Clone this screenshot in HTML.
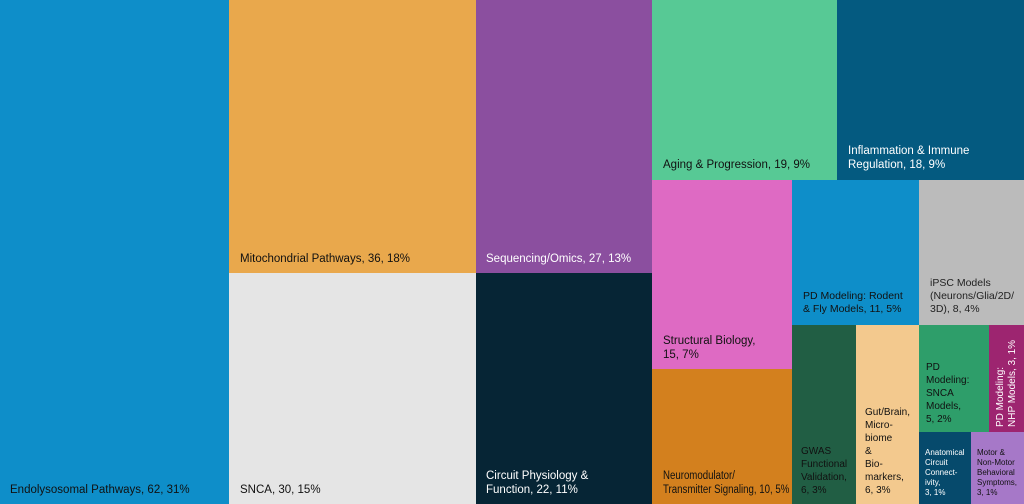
<!DOCTYPE html><html><head><style>
body{margin:0;width:1024px;height:504px;overflow:hidden;font-family:"Liberation Sans","DejaVu Sans",sans-serif;}
.t{position:absolute;box-sizing:border-box;}
.l{position:absolute;font-size:11.5px;line-height:14px;white-space:nowrap;}
.s{font-size:8px;line-height:10px;}
</style></head><body>
<div class="t" style="left:0;top:0;width:229px;height:504px;background:#0e8ec9"><div class="l" style="left:10px;bottom:7px;color:#111">Endolysosomal Pathways, 62, 31%</div></div>
<div class="t" style="left:229px;top:0;width:247px;height:273px;background:#e9a84c"><div class="l" style="left:11px;bottom:7px;color:#111">Mitochondrial Pathways, 36, 18%</div></div>
<div class="t" style="left:229px;top:273px;width:247px;height:231px;background:#e5e5e5"><div class="l" style="left:11px;bottom:7px;color:#111">SNCA, 30, 15%</div></div>
<div class="t" style="left:476px;top:0;width:176px;height:273px;background:#8b4f9f"><div class="l" style="left:10px;bottom:7px;color:#fff">Sequencing/Omics, 27, 13%</div></div>
<div class="t" style="left:476px;top:273px;width:176px;height:231px;background:#062535"><div class="l" style="left:10px;bottom:7px;color:#fff">Circuit Physiology &amp;<br>Function, 22, 11%</div></div>
<div class="t" style="left:652px;top:0;width:185px;height:180px;background:#57c995"><div class="l" style="left:11px;bottom:8px;color:#111">Aging &amp; Progression, 19, 9%</div></div>
<div class="t" style="left:837px;top:0;width:187px;height:180px;background:#045a80"><div class="l" style="left:11px;bottom:8px;color:#fff">Inflammation &amp; Immune<br>Regulation, 18, 9%</div></div>
<div class="t" style="left:652px;top:180px;width:140px;height:189px;background:#de6ac3"><div class="l" style="left:11px;bottom:7px;color:#111">Structural Biology,<br>15, 7%</div></div>
<div class="t" style="left:652px;top:369px;width:140px;height:135px;background:#d3801e"><div class="l" style="left:11px;bottom:7px;color:#111;font-size:11.5px;transform:scaleX(0.84);transform-origin:left bottom">Neuromodulator/<br>Transmitter Signaling, 10, 5%</div></div>
<div class="t" style="left:792px;top:180px;width:127px;height:145px;background:#0e8ec9"><div class="l" style="left:11px;bottom:9px;color:#111;font-size:10.5px;line-height:13px">PD Modeling: Rodent<br>&amp; Fly Models, 11, 5%</div></div>
<div class="t" style="left:919px;top:180px;width:105px;height:145px;background:#bbbbbb"><div class="l" style="left:11px;bottom:9px;color:#222;font-size:10.5px;line-height:13px">iPSC Models<br>(Neurons/Glia/2D/<br>3D), 8, 4%</div></div>
<div class="t" style="left:792px;top:325px;width:64px;height:179px;background:#215e44"><div class="l" style="left:9px;bottom:7px;color:#111;font-size:10px;line-height:13px">GWAS<br>Functional<br>Validation,<br>6, 3%</div></div>
<div class="t" style="left:856px;top:325px;width:63px;height:179px;background:#f3c98e"><div class="l" style="left:9px;bottom:7px;color:#111;font-size:10px;line-height:13px">Gut/Brain,<br>Micro-<br>biome<br>&amp;<br>Bio-<br>markers,<br>6, 3%</div></div>
<div class="t" style="left:919px;top:325px;width:70px;height:107px;background:#2e9e6a"><div class="l" style="left:7px;bottom:6px;color:#111;font-size:10px;line-height:13px">PD<br>Modeling:<br>SNCA<br>Models,<br>5, 2%</div></div>
<div class="t" style="left:989px;top:325px;width:35px;height:107px;background:#9d2570"><div class="l" style="left:-30px;top:42px;width:96px;transform:rotate(-90deg);color:#fff;font-size:10px;line-height:12px">PD Modeling:<br>NHP Models, 3, 1%</div></div>
<div class="t" style="left:919px;top:432px;width:52px;height:72px;background:#064a6c"><div class="l s" style="left:6px;bottom:6px;color:#fff">Anatomical<br>Circuit<br>Connect-<br>ivity,<br>3, 1%</div></div>
<div class="t" style="left:971px;top:432px;width:53px;height:72px;background:#a678c8"><div class="l s" style="left:6px;bottom:6px;color:#111">Motor &amp;<br>Non-Motor<br>Behavioral<br>Symptoms,<br>3, 1%</div></div>
</body></html>
